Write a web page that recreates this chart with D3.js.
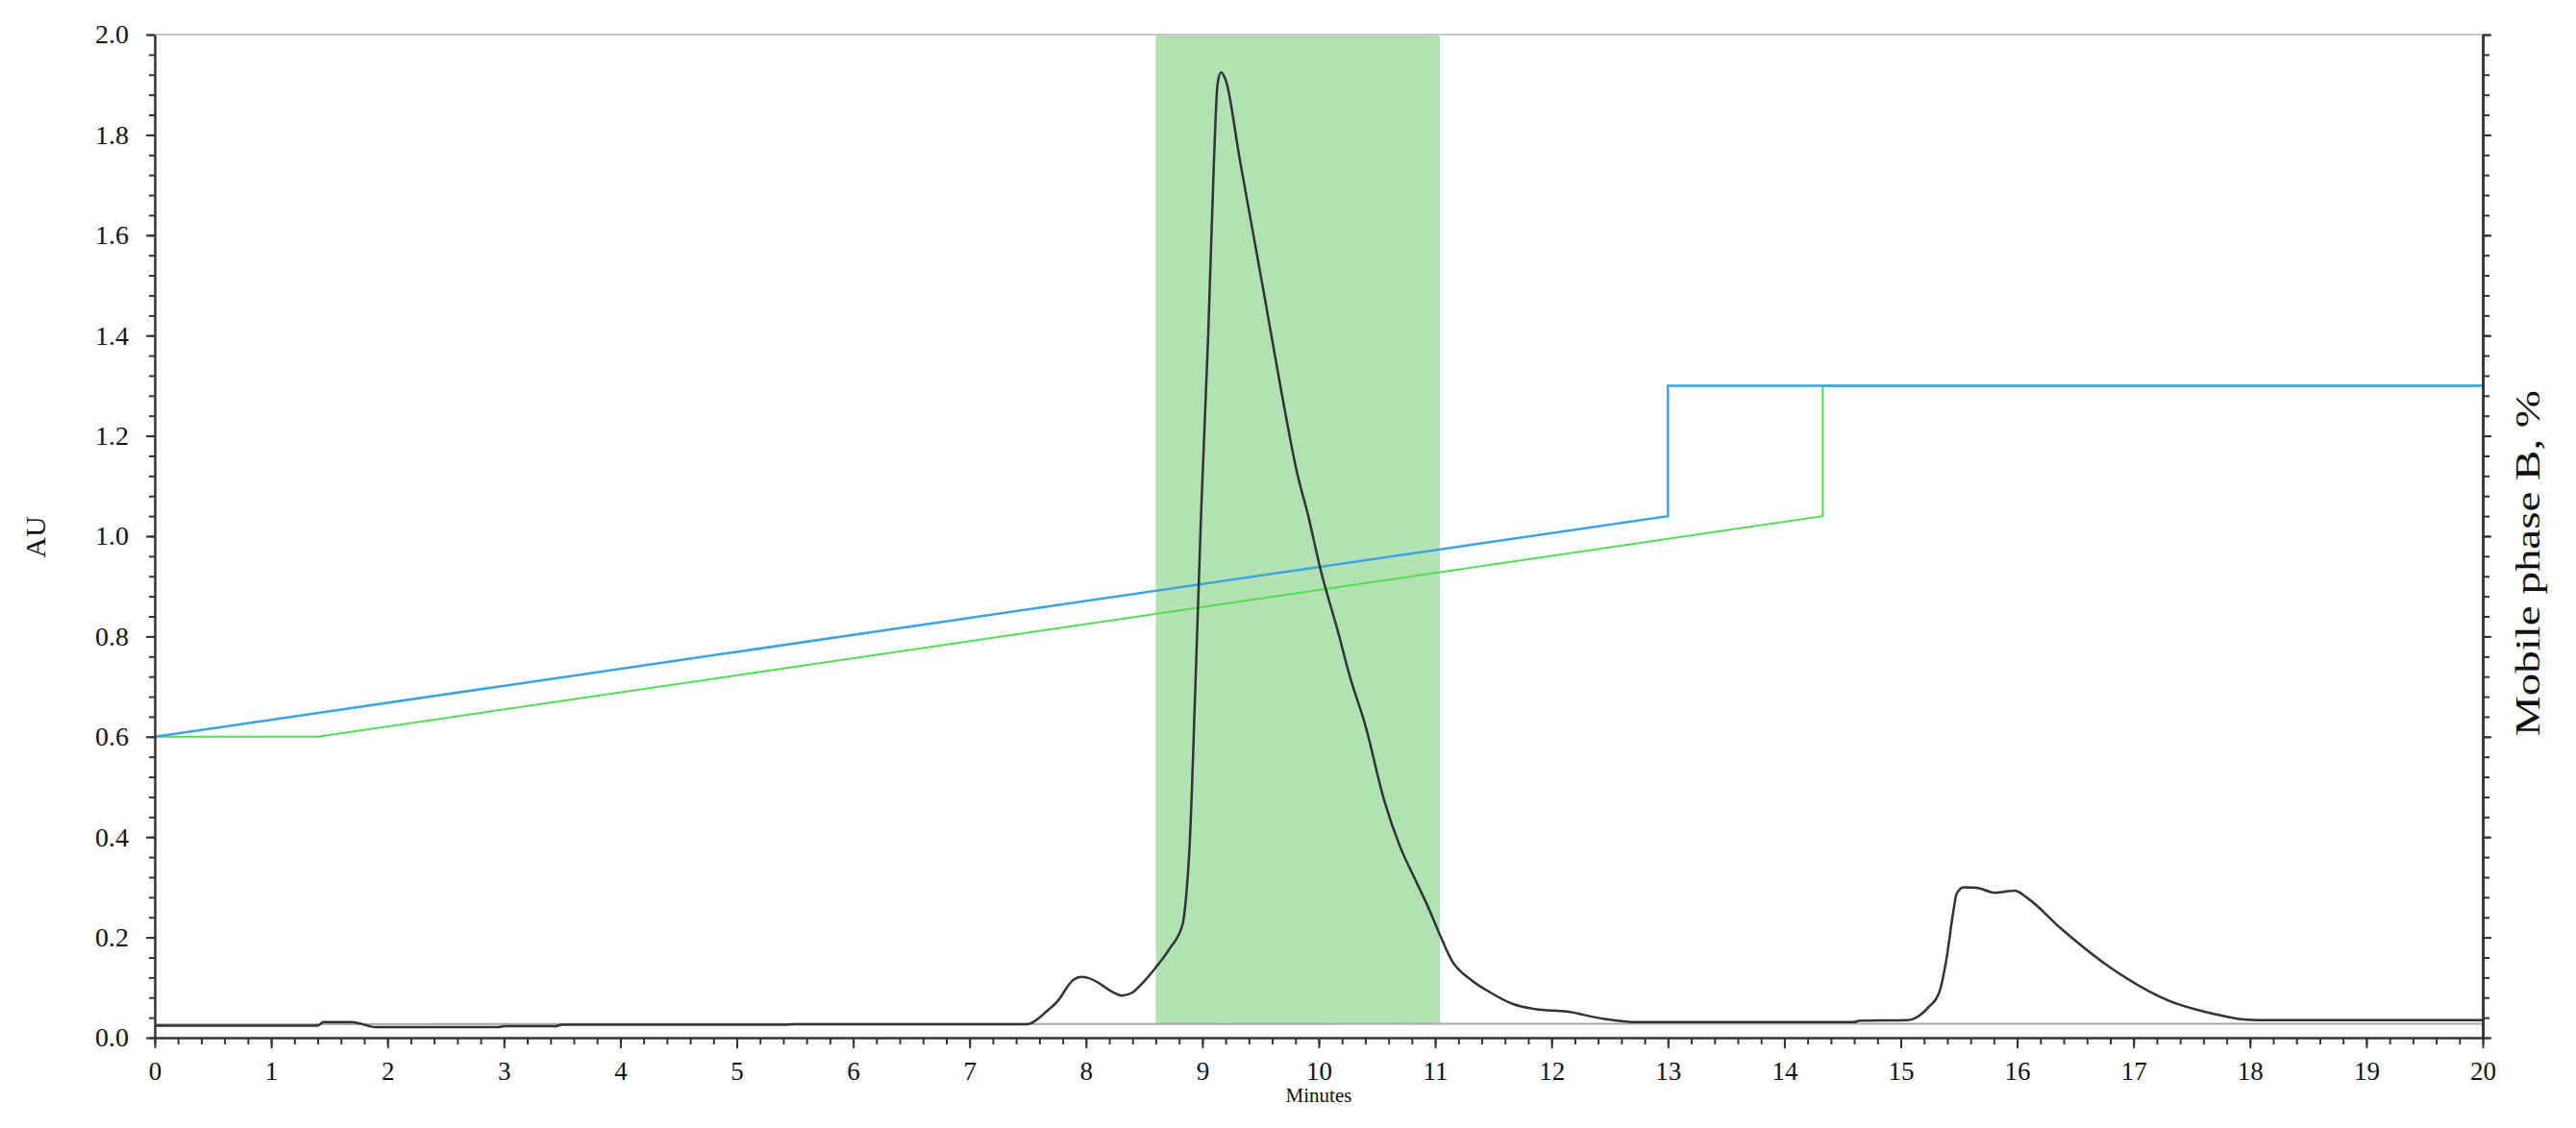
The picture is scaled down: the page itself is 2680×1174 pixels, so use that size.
<!DOCTYPE html>
<html>
<head>
<meta charset="utf-8">
<script src="https://cdn.jsdelivr.net/npm/d3@7"></script>
<style>
  body { margin: 0; background: #fff; }
  svg text { font-family: "Liberation Serif", "DejaVu Serif", serif; fill: #111; }
</style>
</head>
<body>
<svg id="chart"></svg>
<script>
// chromatogram (AU)
const times = [0, 1.40, 1.45, 1.69, 1.90, 2.95, 3.0, 3.44, 3.5, 5.4, 5.5, 7.4, 7.49, 7.67, 7.75, 7.89, 7.96, 8.02, 8.11, 8.22, 8.31, 8.40, 8.47, 8.60, 8.72, 8.83, 8.86, 8.89, 8.94, 8.99, 9.05, 9.10, 9.13, 9.16, 9.20, 9.32, 9.52, 9.69, 9.81, 9.91, 10.02, 10.16, 10.27, 10.40, 10.56, 10.70, 10.84, 10.95, 11.05, 11.14, 11.31, 11.46, 11.67, 11.86, 12.13, 12.44, 12.74, 14.6, 14.65, 15.06, 15.24, 15.33, 15.39, 15.45, 15.48, 15.54, 15.65, 15.81, 15.98, 16.09, 16.38, 16.8, 17.31, 17.68, 17.97, 18.16, 20];
const absorb = [0.024, 0.024, 0.031, 0.031, 0.021, 0.021, 0.023, 0.023, 0.026, 0.026, 0.027, 0.027, 0.027, 0.054, 0.071, 0.115, 0.121, 0.119, 0.109, 0.092, 0.084, 0.090, 0.105, 0.140, 0.178, 0.226, 0.28, 0.38, 0.70, 1.05, 1.40, 1.75, 1.90, 1.925, 1.91, 1.753, 1.496, 1.274, 1.13, 1.04, 0.929, 0.814, 0.718, 0.623, 0.475, 0.38, 0.31, 0.255, 0.20, 0.155, 0.115, 0.092, 0.067, 0.057, 0.052, 0.038, 0.031, 0.031, 0.034, 0.035, 0.061, 0.09, 0.153, 0.249, 0.287, 0.30, 0.299, 0.289, 0.293, 0.278, 0.217, 0.14, 0.073, 0.048, 0.036, 0.035, 0.035];

// blank trace (grey)
const blankTimes = [0, 20];
const blankAbs = [0.027, 0.028];

// mobile phase B, % (right axis)
const gradATimes = [0, 13, 13, 20];
const gradAPct = [30, 52, 65, 65];
const gradBTimes = [0, 1.4, 14.33, 14.33, 20];
const gradBPct = [30, 30, 52, 65, 65];

// collected fraction
const fraction = [8.6, 11.04];

const xTicks = d3.range(0, 21, 1);
const yTicks = d3.range(0, 2.01, 0.2);

let width = 2680, height = 1174;
const margin = {top: 36, right: 97, bottom: 94, left: 161};

const svg = d3.select("#chart")
    .attr("width", width)
    .attr("height", height);

const x = d3.scaleLinear()
    .domain([0, 20])
    .range([margin.left, width - margin.right]);

const y = d3.scaleLinear()
    .domain([0, 2])
    .range([height - margin.bottom, margin.top]);

const yRight = d3.scaleLinear()
    .domain([0, 100])
    .range([height - margin.bottom, margin.top]);

// fraction band
svg.append("rect")
    .attr("x", x(fraction[0]))
    .attr("width", x(fraction[1]) - x(fraction[0]))
    .attr("y", y(2))
    .attr("height", y(blankAbs[0]) - y(2))
    .attr("fill", "#b2e2b4");

// top frame line
svg.append("line")
    .attr("x1", x(0)).attr("x2", x(20))
    .attr("y1", y(2)).attr("y2", y(2))
    .attr("stroke", "#c8c8c8")
    .attr("stroke-width", 2);

const lineOf = (xs, ys, ys_scale) => d3.line()
    .x((d, i) => x(xs[i]))
    .y(d => ys_scale(d));

svg.append("path")
    .datum(blankAbs)
    .attr("d", lineOf(blankTimes, blankAbs, y))
    .attr("fill", "none")
    .attr("stroke", "#a8a8a8")
    .attr("stroke-width", 2);

svg.append("path")
    .datum(gradBPct)
    .attr("d", lineOf(gradBTimes, gradBPct, yRight))
    .attr("fill", "none")
    .attr("stroke", "#52dc52")
    .attr("stroke-width", 2);

svg.append("path")
    .datum(gradAPct)
    .attr("d", lineOf(gradATimes, gradAPct, yRight))
    .attr("fill", "none")
    .attr("stroke", "#3aa3e3")
    .attr("stroke-width", 2.5);

svg.append("path")
    .datum(absorb)
    .attr("d", lineOf(times, absorb, y).curve(d3.curveMonotoneX))
    .attr("fill", "none")
    .attr("stroke", "#333")
    .attr("stroke-width", 2.5);

// axes
const styleAxis = g => {
    g.selectAll("path, line").attr("stroke", "#333").attr("stroke-width", 2);
    g.select(".domain").attr("stroke-width", 2.5);
};

svg.append("g")
    .attr("transform", "translate(0," + y(0) + ")")
    .call(d3.axisBottom(x).tickValues(d3.range(0, 20.01, 0.2)).tickSize(7).tickSizeOuter(0).tickFormat(""))
    .call(styleAxis);

svg.append("g")
    .attr("class", "xaxis")
    .attr("transform", "translate(0," + y(0) + ")")
    .call(d3.axisBottom(x).tickValues(xTicks).tickSize(11).tickSizeOuter(0).tickPadding(14).tickFormat(d3.format("d")))
    .call(styleAxis)
    .call(g => g.select(".domain").remove())
    .selectAll("text")
    .attr("font-size", "27px");

svg.append("g")
    .attr("transform", "translate(" + x(0) + ",0)")
    .call(d3.axisLeft(y).tickValues(d3.range(0, 2.001, 0.04)).tickSize(6).tickSizeOuter(0).tickFormat(""))
    .call(styleAxis);

svg.append("g")
    .attr("transform", "translate(" + x(0) + ",0)")
    .call(d3.axisLeft(y).tickValues(yTicks).tickSize(9).tickSizeOuter(0).tickPadding(18).tickFormat(d3.format(".1f")))
    .call(styleAxis)
    .call(g => g.select(".domain").remove())
    .selectAll("text")
    .attr("font-size", "28px");

svg.append("g")
    .attr("transform", "translate(" + x(20) + ",0)")
    .call(d3.axisRight(yRight).tickValues(d3.range(0, 100.1, 2)).tickSize(7).tickSizeOuter(0).tickFormat(""))
    .call(styleAxis);

svg.append("g")
    .attr("transform", "translate(" + x(20) + ",0)")
    .call(d3.axisRight(yRight).tickValues(d3.range(0, 100.1, 10)).tickSize(9).tickSizeOuter(0).tickFormat(""))
    .call(styleAxis);

// titles
svg.append("text")
    .attr("transform", "translate(47,559) rotate(-90)")
    .attr("text-anchor", "middle")
    .attr("font-size", "30px")
    .text("AU");

svg.append("text")
    .attr("transform", "translate(2642,586) rotate(-90)")
    .attr("text-anchor", "middle")
    .attr("font-size", "35px")
    .attr("textLength", 360)
    .attr("lengthAdjust", "spacingAndGlyphs")
    .text("Mobile phase B, %");

svg.append("text")
    .attr("x", x(10))
    .attr("y", 1147)
    .attr("text-anchor", "middle")
    .attr("font-size", "21px")
    .text("Minutes");
</script>
</body>
</html>
